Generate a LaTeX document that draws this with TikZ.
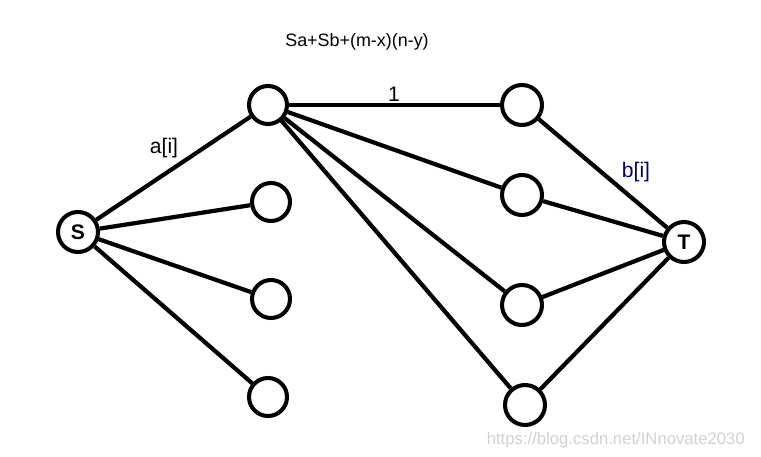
\documentclass[tikz,border=0pt]{standalone}
\usepackage{fontspec}
\setmainfont{Liberation Sans}
\tikzset{
  vertex/.style={draw=black,circle,line width=2.3pt,minimum size=0.76cm,inner sep=0pt},
  edge/.style={line width=2.4pt},
  lbl/.style={font=\fontsize{12}{14}\selectfont}
}

\begin{document}
\begin{tikzpicture}

\useasboundingbox (0, 0) rectangle (15.22, 9.12);

\node[vertex,minimum size=0.8cm,font=\bfseries\large] (s) at (1.56, 4.48) {S};
\node[vertex] (a1) at (5.36, 7.02) {};
\node[vertex] (a2) at (5.42, 5.08) {};
\node[vertex] (a3) at (5.42, 3.14) {};
\node[vertex] (a4) at (5.36, 1.18) {};
\node[vertex,minimum size=0.8cm] (b1) at (10.44, 7.02) {};
\node[vertex,minimum size=0.8cm] (b2) at (10.44, 5.22) {};
\node[vertex,minimum size=0.8cm] (b3) at (10.44, 3.02) {};
\node[vertex,minimum size=0.8cm] (b4) at (10.50, 1.02) {};
\node[vertex,minimum size=0.8cm,font=\bfseries\large] (t) at (13.68, 4.28) {T};

\draw[edge] (s) -- (a1);
\draw[edge] (s) -- (a2);
\draw[edge] (s) -- (a3);
\draw[edge] (s) -- (a4);

\draw[edge] (a1) -- (b1);
\draw[edge] (a1) -- (b2);
\draw[edge] (a1) -- (b3);
\draw[edge] (a1) -- (b4);

\draw[edge] (b1) -- (t);
\draw[edge] (b2) -- (t);
\draw[edge] (b3) -- (t);
\draw[edge] (b4) -- (t);

\node[lbl] (ai) at (3.28, 6.16) {a[i]};
\node[lbl,text=blue!40!black] (bi) at (12.72, 5.68) {b[i]};
\node[lbl] (one) at (7.88, 7.24) {1};
\node[lbl,font=\fontsize{10.2}{12}\selectfont] (cost) at (7.14, 8.28) {Sa+Sb+(m-x)(n-y)};

\node[lbl,font=\fontsize{9.5}{11}\selectfont,text=black!18,anchor=east] (mark) at (15.02, 0.32) {https://blog.csdn.net/INnovate2030};

\end{tikzpicture}
\end{document}
